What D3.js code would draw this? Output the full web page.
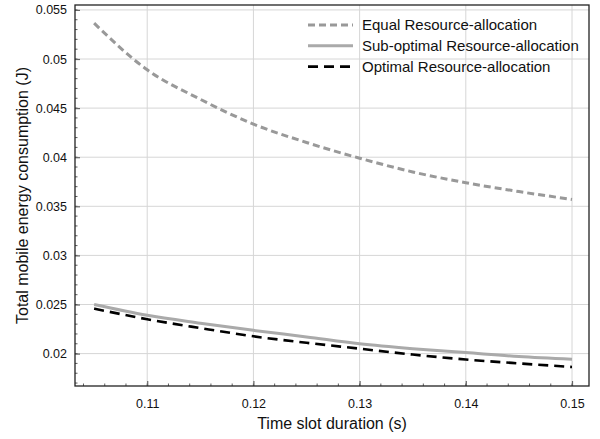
<!DOCTYPE html>
<html>
<head>
<meta charset="utf-8">
<script src="https://cdn.jsdelivr.net/npm/d3@7"></script>
<style>
  body { margin: 0; background: #fff; }
  text { font-family: "Liberation Sans", Arial, sans-serif; }
</style>
</head>
<body>
<div id="chart"></div>
<script>
// Values
const slotDuration = [0.105, 0.11, 0.115, 0.12, 0.125, 0.13, 0.135, 0.14, 0.145, 0.15];
const equalAlloc   = [0.05365, 0.0489, 0.0459, 0.04337, 0.0415, 0.0399, 0.0385, 0.0374, 0.0365, 0.0357];
const subOptAlloc  = [0.0250, 0.0239, 0.0231, 0.02237, 0.0217, 0.0210, 0.0205, 0.0201, 0.0197, 0.01942];
const optAlloc     = [0.02458, 0.0235, 0.0226, 0.02176, 0.0211, 0.0205, 0.0199, 0.0194, 0.0190, 0.01864];
const xTicks = [0.11, 0.12, 0.13, 0.14, 0.15];
const yTicks = [0.02, 0.025, 0.03, 0.035, 0.04, 0.045, 0.05, 0.055];

const series = [
  { name: 'Equal Resource-allocation', values: equalAlloc, color: '#999999', width: 3, dash: '7,4' },
  { name: 'Sub-optimal Resource-allocation', values: subOptAlloc, color: '#aaaaaa', width: 3, dash: null },
  { name: 'Optimal Resource-allocation', values: optAlloc, color: '#000000', width: 2.6, dash: '10,6' }
];

const width = 600, height = 439;
const margin = { top: 5, right: 11, bottom: 53, left: 75 };
const iw = width - margin.left - margin.right;
const ih = height - margin.top - margin.bottom;

const svg = d3.select('#chart').append('svg')
  .attr('width', width)
  .attr('height', height);

const g = svg.append('g').attr('transform', `translate(${margin.left},${margin.top})`);

const x = d3.scaleLinear().domain([0.1032, 0.1516]).range([0, iw]);
const y = d3.scaleLinear().domain([0.0167, 0.0555]).range([ih, 0]);

// grid
g.append('g').selectAll('line').data(xTicks).enter().append('line')
  .attr('x1', d => x(d)).attr('x2', d => x(d))
  .attr('y1', 0).attr('y2', ih)
  .attr('stroke', '#d6d6d6').attr('stroke-width', 1);
g.append('g').selectAll('line').data(yTicks).enter().append('line')
  .attr('y1', d => y(d)).attr('y2', d => y(d))
  .attr('x1', 0).attr('x2', iw)
  .attr('stroke', '#d6d6d6').attr('stroke-width', 1);

// minor ticks (inside)
const xMinor = d3.range(0.104, 0.1515, 0.002);
const yMinor = d3.range(0.017, 0.0555, 0.001);
g.append('g').selectAll('line').data(xMinor).enter().append('line')
  .attr('x1', d => x(d)).attr('x2', d => x(d))
  .attr('y1', ih).attr('y2', ih - 2.5)
  .attr('stroke', '#333').attr('stroke-width', 0.8);
g.append('g').selectAll('line').data(yMinor).enter().append('line')
  .attr('y1', d => y(d)).attr('y2', d => y(d))
  .attr('x1', 0).attr('x2', 2.5)
  .attr('stroke', '#333').attr('stroke-width', 0.8);

// axes
const xAxis = d3.axisBottom(x).tickValues(xTicks).tickSizeInner(-5).tickSizeOuter(0)
  .tickPadding(13).tickFormat(d3.format('.2f'));
const yAxis = d3.axisLeft(y).tickValues(yTicks).tickSizeInner(-5).tickSizeOuter(0)
  .tickPadding(8).tickFormat(d => d3.format('')(+d.toFixed(3)));

const gx = g.append('g').attr('transform', `translate(0,${ih})`).call(xAxis);
const gy = g.append('g').call(yAxis);
[gx, gy].forEach(a => {
  a.select('.domain').remove();
  a.selectAll('.tick line').attr('stroke', '#666').attr('stroke-width', 1.2);
  a.selectAll('.tick text').attr('font-size', 12.5).attr('fill', '#111')
    .style('font-family', '"Liberation Sans", Arial, sans-serif');
});

// frame
g.append('rect').attr('x', 0).attr('y', 0).attr('width', iw).attr('height', ih)
  .attr('fill', 'none').attr('stroke', '#222').attr('stroke-width', 1.3);

// lines
const line = d3.line()
  .x((d, i) => x(slotDuration[i]))
  .y(d => y(d))
  .curve(d3.curveMonotoneX);

series.forEach(s => {
  g.append('path')
    .datum(s.values)
    .attr('d', line)
    .attr('fill', 'none')
    .attr('stroke', s.color)
    .attr('stroke-width', s.width)
    .attr('stroke-dasharray', s.dash);
});

// legend
const legend = svg.append('g').attr('transform', 'translate(308,25)');
series.forEach((s, i) => {
  const row = legend.append('g').attr('transform', `translate(0,${i * 20.8})`);
  row.append('line')
    .attr('x1', 0).attr('x2', 45).attr('y1', 0).attr('y2', 0)
    .attr('stroke', s.color).attr('stroke-width', s.width)
    .attr('stroke-dasharray', s.dash);
  row.append('text')
    .attr('x', 54).attr('y', 0).attr('dy', '0.35em')
    .attr('font-size', 15).attr('fill', '#111')
    .text(s.name);
});

// axis titles
svg.append('text')
  .attr('x', margin.left + iw / 2).attr('y', 429)
  .attr('text-anchor', 'middle').attr('font-size', 16).attr('fill', '#111')
  .text('Time slot duration (s)');
svg.append('text')
  .attr('transform', `translate(28,${margin.top + ih / 2}) rotate(-90)`)
  .attr('text-anchor', 'middle').attr('font-size', 16).attr('fill', '#111')
  .text('Total mobile energy consumption (J)');
</script>
</body>
</html>
